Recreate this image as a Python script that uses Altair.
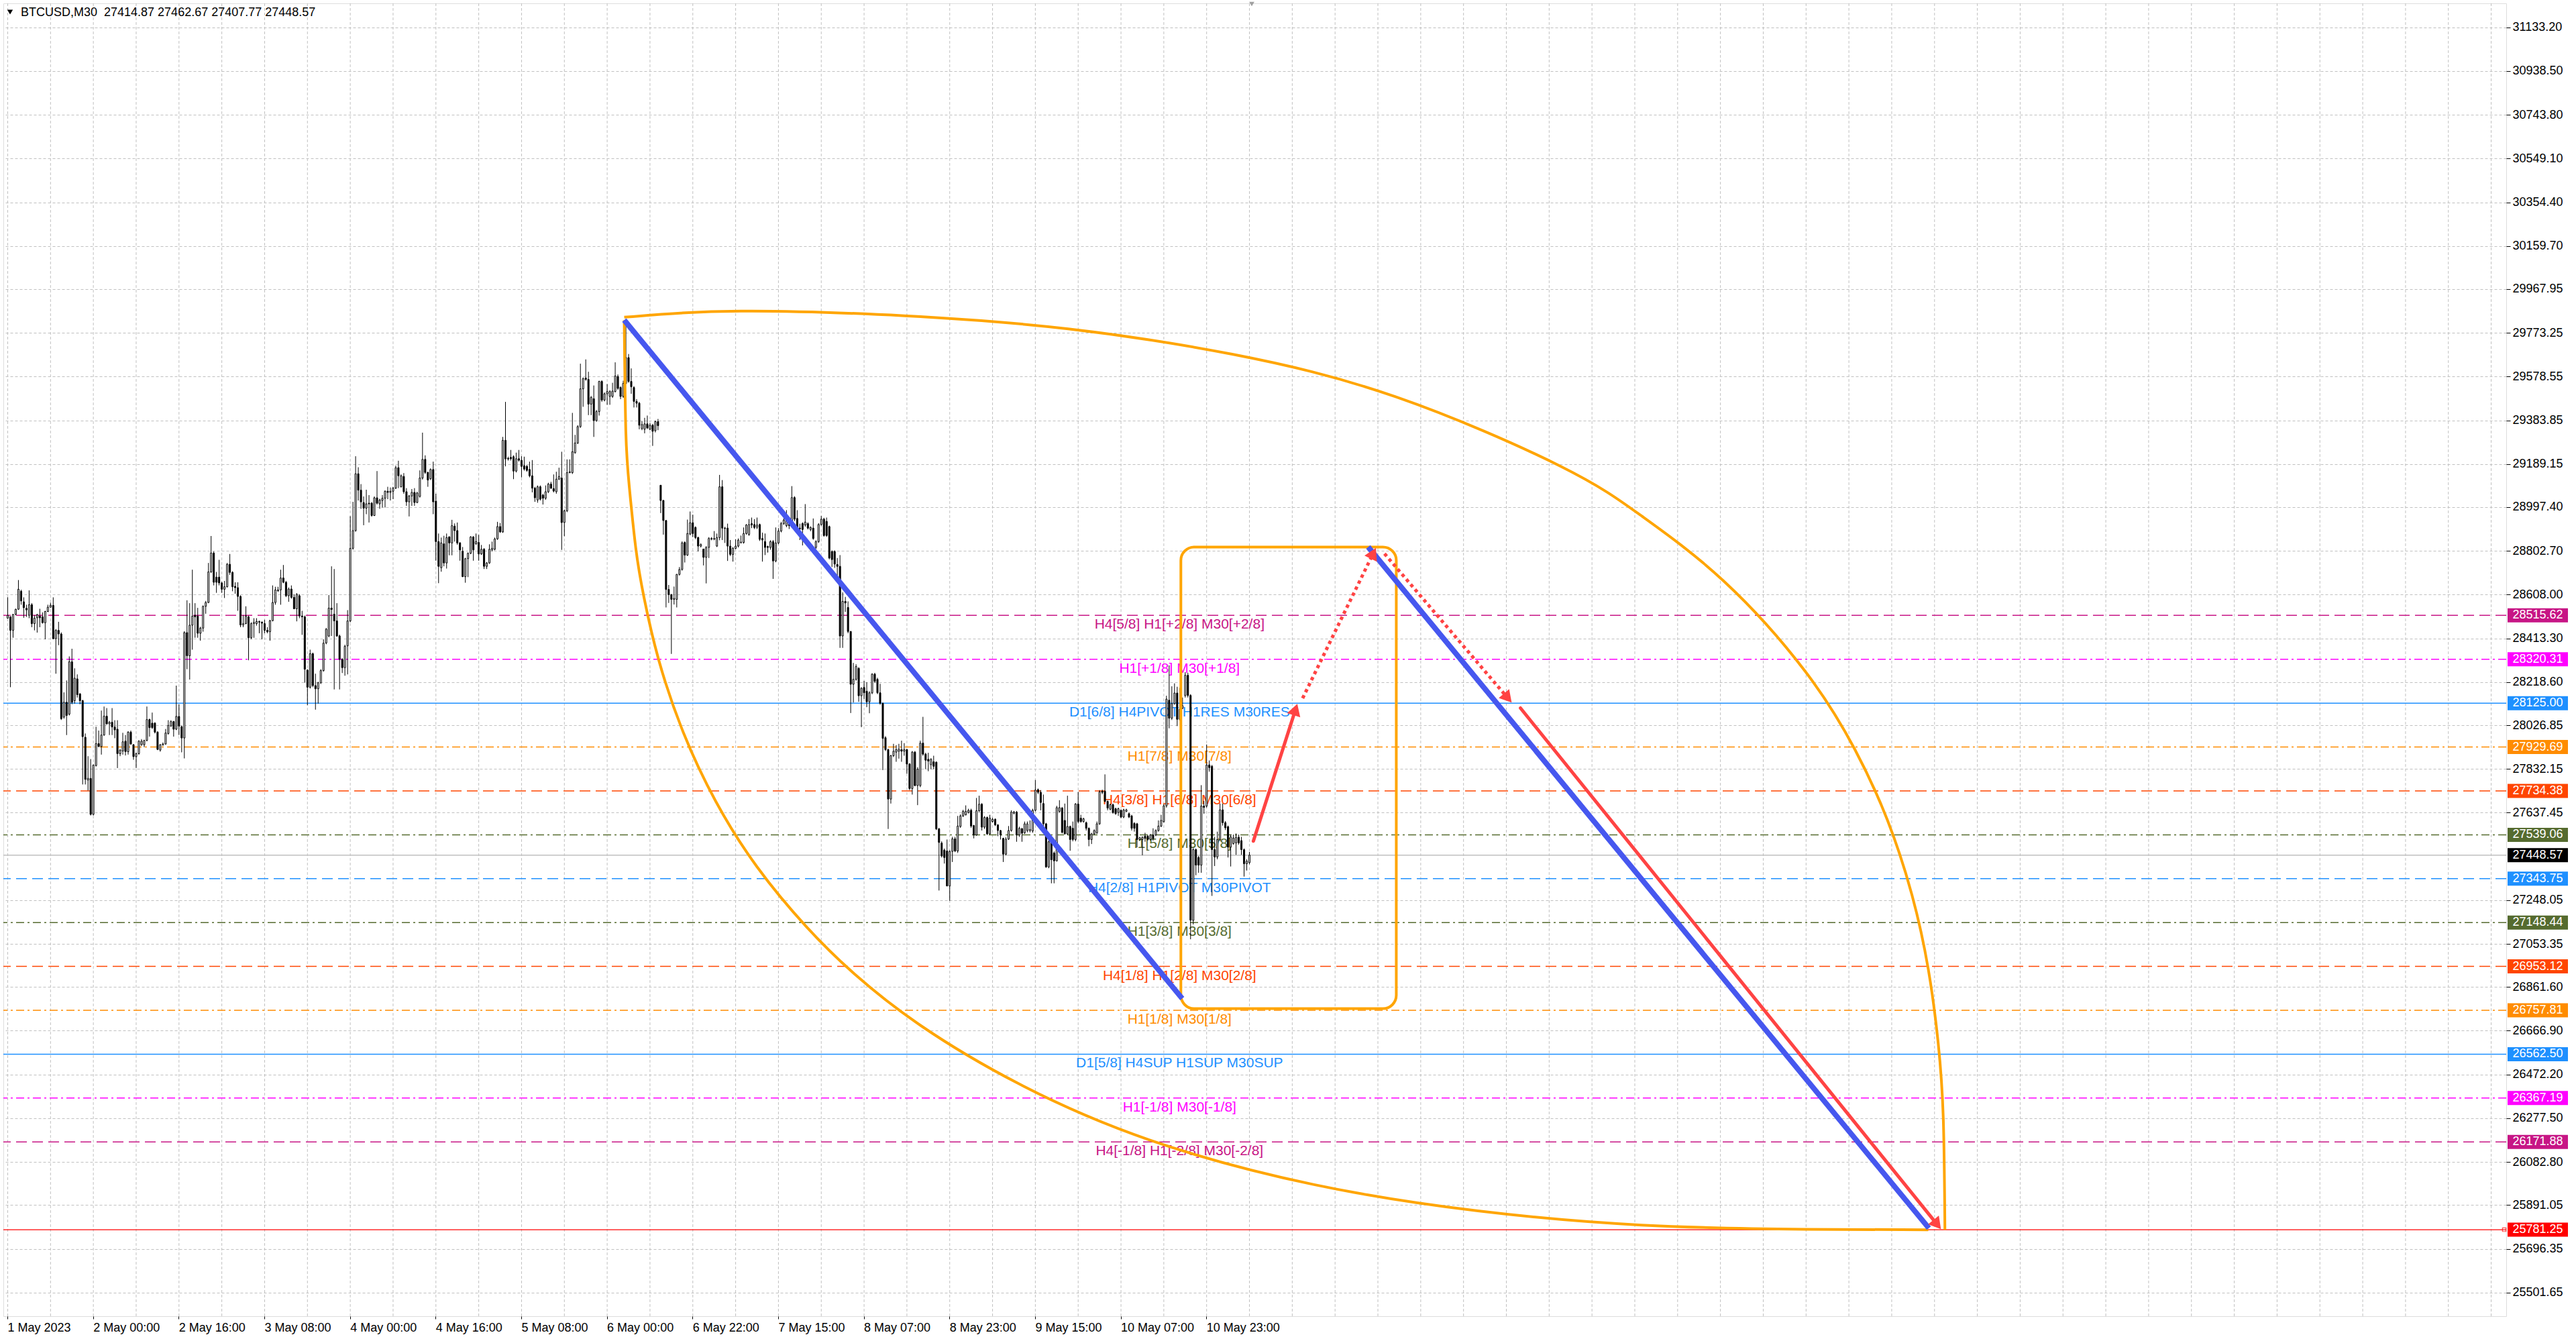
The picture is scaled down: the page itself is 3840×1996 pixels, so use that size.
import math
import altair as alt
import pandas as pd

# ---------------------------------------------------------------------------
# BTCUSD M30 candles, [open, high, low, close] per bar
# ---------------------------------------------------------------------------
candles_may1_3 = [
    [28503, 28596, 28503, 28516], [28509, 28512, 28196, 28449], [28449, 28522, 28416, 28520],
    [28520, 28545, 28516, 28543], [28543, 28673, 28540, 28632], [28623, 28630, 28563, 28580],
    [28576, 28596, 28505, 28550], [28547, 28563, 28509, 28540], [28516, 28627, 28503, 28563],
    [28563, 28570, 28463, 28479], [28479, 28516, 28449, 28503], [28505, 28522, 28439, 28519],
    [28512, 28545, 28463, 28505], [28509, 28529, 28479, 28483], [28483, 28536, 28409, 28533],
    [28533, 28563, 28530, 28552], [28552, 28572, 28550, 28561], [28560, 28596, 28409, 28412],
    [28412, 28455, 28256, 28449], [28449, 28487, 28383, 28433], [28433, 28440, 28050, 28056],
    [28063, 28173, 28056, 28129], [28129, 28226, 27983, 28070], [28076, 28333, 28070, 28309],
    [28309, 28367, 28120, 28129], [28136, 28280, 28123, 28236], [28233, 28253, 28150, 28163],
    [28166, 28170, 28120, 28136], [28136, 28140, 27763, 27976], [27973, 27990, 27763, 27786],
    [27783, 27889, 27736, 27790], [27790, 27876, 27625, 27630], [27630, 27852, 27625, 27849],
    [27847, 28020, 27843, 27945], [27945, 28003, 27929, 27932], [27932, 28092, 27896, 27983],
    [27983, 28110, 27980, 28067], [28067, 28103, 28029, 28033], [28033, 28046, 27983, 28040],
    [28040, 28103, 27983, 28019], [28019, 28049, 27969, 28006], [28009, 28049, 27836, 27900],
    [27900, 27920, 27889, 27916], [27912, 27993, 27896, 27953], [27956, 27983, 27892, 27909],
    [27909, 28000, 27896, 27996], [27996, 28003, 27940, 27943], [27940, 27943, 27873, 27887],
    [27887, 27905, 27836, 27900], [27900, 27960, 27896, 27956], [27940, 27965, 27935, 27956],
    [27940, 27962, 27929, 27959], [27959, 28110, 27955, 28052], [28052, 28056, 27976, 28016],
    [28036, 28083, 28010, 28016], [28036, 28040, 27990, 27996], [27996, 28000, 27916, 27919],
    [27916, 27943, 27909, 27940], [27940, 27950, 27935, 27943], [27943, 28010, 27940, 27992],
    [27990, 28049, 27985, 28026], [28023, 28049, 28020, 28043], [28043, 28046, 27976, 28009],
    [28009, 28203, 28005, 28066], [28066, 28119, 27983, 28023], [28020, 28025, 27906, 27970],
    [27970, 28445, 27879, 28439], [28439, 28583, 28276, 28336], [28336, 28570, 28230, 28472],
    [28472, 28719, 28363, 28512], [28516, 28570, 28416, 28509], [28512, 28549, 28416, 28436],
    [28436, 28465, 28403, 28459], [28459, 28560, 28443, 28556], [28556, 28580, 28523, 28573],
    [28573, 28749, 28570, 28709], [28709, 28869, 28705, 28793], [28793, 28800, 28649, 28663],
    [28686, 28709, 28616, 28663], [28686, 28763, 28649, 28660], [28660, 28665, 28616, 28632],
    [28632, 28669, 28593, 28643], [28643, 28749, 28640, 28743], [28743, 28789, 28696, 28707],
    [28707, 28712, 28623, 28643], [28645, 28663, 28612, 28639], [28639, 28663, 28536, 28600],
    [28600, 28605, 28463, 28473], [28473, 28516, 28463, 28479], [28479, 28556, 28476, 28513],
    [28509, 28515, 28316, 28416], [28416, 28485, 28410, 28479], [28479, 28503, 28416, 28485],
    [28479, 28503, 28470, 28489], [28485, 28492, 28436, 28489], [28485, 28489, 28409, 28481],
    [28479, 28496, 28436, 28449], [28449, 28463, 28436, 28443], [28443, 28496, 28403, 28492],
    [28492, 28649, 28489, 28573], [28573, 28643, 28563, 28629], [28625, 28643, 28620, 28629],
    [28629, 28719, 28563, 28682], [28682, 28740, 28659, 28663], [28663, 28669, 28597, 28603],
    [28603, 28640, 28576, 28633], [28633, 28649, 28590, 28596], [28596, 28609, 28543, 28545],
    [28545, 28615, 28489, 28609], [28603, 28610, 28503, 28513], [28513, 28536, 28429, 28509],
    [28509, 28515, 28216, 28276], [28272, 28276, 28116, 28196], [28196, 28363, 28190, 28345],
    [28345, 28350, 28196, 28203], [28203, 28256, 28096, 28189], [28189, 28220, 28123, 28216],
    [28216, 28276, 28210, 28270], [28270, 28409, 28265, 28392],
]

candles_may3_6 = [
    [28393, 28460, 28387, 28454], [28424, 28606, 28418, 28548], [28548, 28734, 28424, 28542],
    [28521, 28722, 28186, 28491], [28491, 28570, 28420, 28424], [28424, 28430, 28186, 28320],
    [28320, 28325, 28259, 28283], [28283, 28385, 28247, 28378], [28380, 28539, 28253, 28491],
    [28491, 28957, 28485, 28814], [28814, 29021, 28808, 28893], [28893, 29224, 28888, 29146],
    [29146, 29175, 29027, 29073], [29073, 29100, 28990, 29021], [29018, 29045, 28917, 28993],
    [28993, 29075, 28966, 29012], [29015, 29051, 28929, 29012], [29015, 29020, 28955, 28960],
    [28960, 29045, 28958, 29039], [29039, 29158, 29009, 29015], [29012, 29035, 28990, 29029],
    [29027, 29051, 28996, 29037], [29037, 29072, 28996, 29068], [29068, 29088, 29033, 29063],
    [29063, 29085, 29027, 29068], [29068, 29088, 29033, 29082], [29082, 29182, 29078, 29173],
    [29173, 29204, 29082, 29137], [29088, 29143, 29085, 29137], [29134, 29149, 29057, 29066],
    [29066, 29082, 29003, 29021], [29021, 29052, 28956, 29047], [29047, 29078, 29003, 29063],
    [29063, 29082, 29003, 29018], [29018, 29066, 29015, 29060], [29045, 29161, 29040, 29127],
    [29127, 29329, 29120, 29210], [29210, 29228, 29145, 29152], [29152, 29155, 29088, 29118],
    [29124, 29170, 29118, 29165], [29165, 29200, 28966, 29021], [29024, 29057, 28759, 28844],
    [28844, 28880, 28659, 28734], [28728, 28862, 28710, 28838], [28834, 28870, 28734, 28749],
    [28749, 28880, 28724, 28862], [28865, 28868, 28783, 28838], [28838, 28941, 28783, 28915],
    [28913, 28925, 28844, 28893], [28893, 28929, 28830, 28838], [28838, 28842, 28759, 28807],
    [28801, 28820, 28686, 28688], [28688, 28772, 28661, 28768], [28768, 28796, 28686, 28792],
    [28792, 28868, 28788, 28865], [28865, 28868, 28759, 28807], [28834, 28880, 28830, 28844],
    [28840, 28874, 28759, 28789], [28789, 28829, 28785, 28810], [28810, 28815, 28722, 28734],
    [28734, 28753, 28722, 28749], [28749, 28832, 28745, 28810], [28807, 28844, 28800, 28814],
    [28810, 28862, 28805, 28856], [28856, 28932, 28852, 28911], [28911, 28927, 28883, 28887],
    [28887, 29310, 28883, 29295], [29295, 29466, 29179, 29212], [29215, 29222, 29205, 29212],
    [29219, 29252, 29205, 29213], [29222, 29228, 29122, 29158], [29158, 29240, 29152, 29213],
    [29213, 29252, 29200, 29206], [29206, 29224, 29130, 29179], [29182, 29222, 29160, 29167],
    [29179, 29185, 29155, 29161], [29165, 29200, 29130, 29137], [29137, 29207, 29063, 29082],
    [29082, 29088, 29021, 29039], [29029, 29094, 29017, 29088], [29088, 29094, 29027, 29033],
    [29051, 29057, 29009, 29037], [29037, 29094, 29030, 29066], [29066, 29106, 29060, 29100],
    [29100, 29110, 29078, 29082], [29080, 29143, 29063, 29069], [29066, 29155, 29057, 29122],
    [29122, 29173, 29118, 29134], [29127, 29244, 28807, 28929], [28929, 28987, 28868, 28981],
    [28981, 29210, 28975, 29151], [29151, 29210, 29148, 29155], [29151, 29417, 29145, 29244],
    [29240, 29319, 29235, 29283], [29283, 29362, 29278, 29356], [29356, 29636, 29350, 29524],
    [29524, 29575, 29444, 29569], [29572, 29655, 29560, 29566], [29566, 29600, 29407, 29456],
    [29456, 29492, 29407, 29486], [29480, 29539, 29310, 29383], [29383, 29430, 29377, 29423],
    [29423, 29560, 29405, 29557], [29557, 29562, 29466, 29474], [29474, 29508, 29468, 29502],
    [29502, 29545, 29453, 29512], [29490, 29518, 29453, 29512], [29490, 29551, 29484, 29514],
    [29512, 29642, 29508, 29581], [29579, 29588, 29520, 29526], [29530, 29535, 29478, 29490],
    [29490, 29560, 29484, 29548], [29548, 29819, 29545, 29663], [29663, 29679, 29551, 29557],
    [29557, 29615, 29502, 29533], [29530, 29536, 29441, 29468], [29468, 29478, 29441, 29460],
    [29460, 29466, 29344, 29362], [29347, 29380, 29340, 29365], [29344, 29395, 29326, 29368],
    [29368, 29405, 29345, 29350], [29344, 29371, 29340, 29362], [29362, 29368, 29270, 29335],
    [29338, 29383, 29330, 29378], [29378, 29390, 29340, 29360],
]

candles_may6_8 = [
    [29095, 29095, 28971, 29027], [29027, 29030, 28875, 28938], [28938, 28940, 28551, 28631],
    [28631, 28651, 28571, 28608], [28608, 28611, 28344, 28587], [28587, 28644, 28564, 28591],
    [28587, 28700, 28551, 28698], [28698, 28731, 28693, 28720], [28720, 28845, 28715, 28838],
    [28840, 28845, 28751, 28784], [28784, 28942, 28780, 28880], [28878, 28978, 28872, 28928],
    [28928, 28964, 28864, 28880], [28907, 28912, 28855, 28862], [28862, 28866, 28800, 28824],
    [28824, 28836, 28818, 28831], [28811, 28811, 28738, 28774], [28774, 28824, 28658, 28818],
    [28818, 28864, 28771, 28858], [28855, 28864, 28850, 28858], [28855, 28891, 28850, 28858],
    [28824, 28880, 28820, 28862], [28862, 29141, 28850, 29088], [29088, 29118, 28851, 28904],
    [28904, 28910, 28838, 28902], [28904, 28924, 28758, 28824], [28824, 28851, 28780, 28787],
    [28787, 28820, 28755, 28814], [28814, 28854, 28810, 28824], [28824, 28858, 28818, 28851],
    [28840, 28871, 28835, 28842], [28840, 28907, 28835, 28880], [28880, 28922, 28875, 28918],
    [28875, 28944, 28870, 28920], [28924, 28951, 28904, 28918], [28920, 28944, 28900, 28907],
    [28908, 28951, 28900, 28918], [28920, 28924, 28847, 28854], [28858, 28884, 28755, 28851],
    [28844, 28880, 28784, 28818], [28822, 28826, 28795, 28818], [28818, 28850, 28808, 28844],
    [28844, 28851, 28678, 28758], [28758, 28907, 28752, 28838], [28838, 28904, 28832, 28891],
    [28891, 28932, 28885, 28924], [28924, 28948, 28918, 28940], [28915, 28984, 28908, 28944],
    [28924, 28930, 28900, 28915], [28918, 29091, 28912, 29040], [29040, 29046, 28935, 28944],
    [28947, 28984, 28880, 28904], [28904, 28924, 28851, 28901], [28924, 28930, 28827, 28898],
    [28918, 29011, 28910, 28931], [28924, 28930, 28898, 28904], [28898, 28912, 28890, 28907],
    [28904, 28947, 28852, 28858], [28818, 28850, 28812, 28844], [28844, 28926, 28838, 28920],
    [28920, 28958, 28915, 28944], [28944, 28950, 28866, 28871], [28934, 28951, 28865, 28871],
    [28911, 28915, 28765, 28771], [28800, 28805, 28731, 28764], [28800, 28805, 28727, 28744],
    [28742, 28771, 28691, 28734], [28734, 28784, 28371, 28424], [28424, 28618, 28371, 28578],
    [28578, 28598, 28531, 28571], [28551, 28578, 28436, 28444], [28444, 28446, 28081, 28209],
    [28209, 28304, 28128, 28231], [28231, 28298, 28225, 28288], [28280, 28285, 28131, 28158],
    [28158, 28196, 28018, 28191], [28195, 28224, 28144, 28171], [28178, 28218, 28107, 28131],
    [28131, 28178, 28080, 28171], [28171, 28258, 28165, 28254], [28254, 28260, 28215, 28222],
    [28231, 28238, 28165, 28171], [28171, 28211, 28118, 28124], [28124, 28128, 27827, 27968],
    [27971, 27978, 27912, 27918], [27918, 27922, 27565, 27698], [27698, 27895, 27678, 27891],
    [27891, 27944, 27885, 27911], [27907, 27938, 27864, 27918], [27911, 27944, 27878, 27920],
    [27918, 27958, 27864, 27911], [27911, 27947, 27891, 27918], [27918, 27922, 27811, 27854],
    [27854, 27858, 27738, 27745], [27745, 27912, 27718, 27907], [27907, 27912, 27755, 27758],
    [27758, 27840, 27671, 27831], [27758, 27958, 27751, 27947], [27947, 28064, 27891, 27898],
    [27898, 27904, 27831, 27871], [27875, 27904, 27822, 27867], [27851, 27880, 27831, 27875],
    [27864, 27891, 27831, 27844], [27862, 27866, 27560, 27565], [27565, 27570, 27291, 27505],
    [27502, 27510, 27438, 27445], [27471, 27478, 27411, 27438], [27467, 27518, 27311, 27311],
    [27311, 27470, 27245, 27465], [27465, 27530, 27418, 27521], [27521, 27530, 27462, 27467],
]

candles_may8_10 = [
    [27467, 27623, 27458, 27578], [27576, 27630, 27570, 27623], [27623, 27650, 27618, 27643],
    [27628, 27670, 27625, 27643], [27638, 27655, 27634, 27648], [27648, 27655, 27570, 27578],
    [27580, 27583, 27523, 27538], [27538, 27703, 27535, 27646], [27646, 27713, 27640, 27675],
    [27675, 27680, 27558, 27573], [27573, 27622, 27565, 27616], [27616, 27620, 27538, 27543],
    [27543, 27628, 27540, 27613], [27598, 27615, 27594, 27608], [27608, 27612, 27578, 27583],
    [27583, 27586, 27533, 27558], [27558, 27560, 27518, 27538], [27523, 27526, 27418, 27453],
    [27453, 27528, 27448, 27520], [27520, 27578, 27516, 27558], [27558, 27648, 27553, 27640],
    [27635, 27645, 27630, 27640], [27640, 27645, 27508, 27538], [27538, 27575, 27530, 27568],
    [27566, 27570, 27508, 27546], [27548, 27598, 27543, 27588], [27558, 27598, 27550, 27588],
    [27558, 27603, 27550, 27562], [27556, 27655, 27548, 27648], [27648, 27783, 27643, 27738],
    [27740, 27745, 27720, 27728], [27728, 27738, 27648, 27683], [27678, 27718, 27578, 27588],
    [27588, 27592, 27392, 27396], [27396, 27515, 27390, 27508], [27508, 27512, 27323, 27428],
    [27458, 27465, 27323, 27423], [27423, 27668, 27420, 27660], [27643, 27693, 27638, 27660],
    [27658, 27663, 27545, 27550], [27603, 27678, 27540, 27543], [27543, 27713, 27538, 27576],
    [27576, 27580, 27468, 27518], [27568, 27598, 27510, 27518], [27518, 27680, 27510, 27676],
    [27676, 27730, 27590, 27598], [27613, 27628, 27593, 27598], [27598, 27615, 27593, 27610],
    [27593, 27598, 27558, 27568], [27568, 27572, 27488, 27518], [27518, 27548, 27498, 27543],
    [27543, 27563, 27538, 27558], [27548, 27598, 27543, 27588], [27588, 27738, 27583, 27730],
    [27733, 27740, 27720, 27728], [27733, 27808, 27683, 27688], [27688, 27692, 27648, 27658],
    [27653, 27678, 27648, 27673], [27673, 27678, 27633, 27638], [27655, 27660, 27628, 27633],
    [27638, 27660, 27623, 27655], [27648, 27652, 27613, 27618], [27618, 27655, 27613, 27650],
    [27643, 27655, 27640, 27650], [27633, 27638, 27613, 27618], [27623, 27628, 27558, 27568],
    [27590, 27595, 27553, 27568], [27588, 27592, 27483, 27518], [27518, 27530, 27513, 27526],
    [27518, 27532, 27448, 27528], [27533, 27548, 27508, 27523], [27533, 27538, 27513, 27518],
    [27518, 27543, 27513, 27538], [27538, 27568, 27513, 27523], [27538, 27563, 27533, 27558],
    [27558, 27603, 27553, 27578], [27578, 27628, 27573, 27603], [27598, 27675, 27593, 27668],
    [27668, 28158, 27660, 28143], [28138, 28293, 28013, 28058], [28058, 28200, 28050, 28123],
    [28123, 28213, 28118, 28170], [28170, 28198, 28023, 28053], [28053, 28193, 28048, 28098],
    [28103, 28150, 28098, 28113], [28159, 28263, 28150, 28249], [28249, 28260, 28150, 28159],
    [28159, 28165, 27074, 27159], [27158, 27480, 27140, 27473], [27473, 27478, 27359, 27404],
    [27438, 27445, 27370, 27404], [27404, 27760, 27370, 27667], [27667, 27690, 27633, 27661],
    [27667, 27941, 27660, 27850], [27850, 27870, 27820, 27838], [27844, 27850, 27267, 27473],
    [27473, 27530, 27400, 27440], [27440, 27553, 27430, 27518], [27518, 27678, 27510, 27650],
    [27650, 27678, 27580, 27593], [27593, 27600, 27560, 27570], [27575, 27580, 27438, 27484],
    [27484, 27540, 27398, 27530], [27500, 27540, 27495, 27525], [27503, 27545, 27450, 27528],
    [27528, 27540, 27495, 27503], [27513, 27530, 27450, 27473], [27473, 27478, 27353, 27410],
    [27410, 27430, 27380, 27422], [27414.87, 27462.67, 27407.77, 27448.57],
]

# Time axis: one label every 32 bars
time_labels = [
    "1 May 2023", "2 May 00:00", "2 May 16:00", "3 May 08:00", "4 May 00:00",
    "4 May 16:00", "5 May 08:00", "6 May 00:00", "6 May 22:00", "7 May 15:00",
    "8 May 07:00", "8 May 23:00", "9 May 15:00", "10 May 07:00", "10 May 23:00",
]
label_every = 32
grid_every = 16

price_ticks = [
    31133.20, 30938.50, 30743.80, 30549.10, 30354.40, 30159.70, 29967.95, 29773.25,
    29578.55, 29383.85, 29189.15, 28997.40, 28802.70, 28608.00, 28413.30, 28218.60,
    28026.85, 27832.15, 27637.45, 27248.05, 27053.35, 26861.60, 26666.90, 26472.20,
    26277.50, 26082.80, 25891.05, 25696.35, 25501.65,
]

# Murrey-math levels
level_prices = [28515.62, 28320.31, 28125.00, 27929.69, 27734.38, 27539.06, 27343.75,
                27148.44, 26953.12, 26757.81, 26562.50, 26367.19, 26171.88]
level_texts = [
    "H4[5/8] H1[+2/8] M30[+2/8]", "H1[+1/8] M30[+1/8]", "D1[6/8] H4PIVOT H1RES M30RES",
    "H1[7/8] M30[7/8]", "H4[3/8] H1[6/8] M30[6/8]", "H1[5/8] M30[5/8]",
    "H4[2/8] H1PIVOT M30PIVOT", "H1[3/8] M30[3/8]", "H4[1/8] H1[2/8] M30[2/8]",
    "H1[1/8] M30[1/8]", "D1[5/8] H4SUP H1SUP M30SUP", "H1[-1/8] M30[-1/8]",
    "H4[-1/8] H1[-2/8] M30[-2/8]",
]
level_colors = ["#C71585", "#FF00FF", "#1E90FF", "#FF8C00", "#FF4500", "#556B2F", "#1E90FF",
                "#556B2F", "#FF4500", "#FF8C00", "#1E90FF", "#FF00FF", "#C71585"]
level_styles = ["dash", "dashdot", "solid", "dashdot", "dash", "dashdot", "dash",
                "dashdot", "dash", "dashdot", "solid", "dashdot", "dash"]
level_label_bar = 438

target_price = 25781.25

# Drawn objects, as (bar, price) points
blue_legs = [
    [(230.5, 29830), (439.0, 26810)],
    [(508.5, 28820), (718.0, 25788)],
]
red_solid_legs = [
    [(465.6, 27511), (482.1, 28125)],
    [(565.4, 28103), (722.7, 25781)],
]
red_dotted_legs = [
    [(484.0, 28147), (511.5, 28819)],
    [(514.6, 28790), (562.3, 28125)],
]
box_bars = (438.5, 519.0)
box_prices = (28820.0, 26765.0)
arc_upper = [(230.5, 29843), (274.0, 29870), (335.2, 29849), (396.4, 29791), (457.7, 29678),
             (518.9, 29488), (580.1, 29181), (610.7, 28958), (641.3, 28669), (671.9, 28265),
             (690.3, 27920), (702.5, 27605), (711.7, 27271), (717.8, 26940), (721.5, 26611),
             (723.4, 26275), (724.0, 25781)]
arc_lower = [(230.5, 29829), (231.1, 29334), (232.4, 29087), (234.8, 28817), (237.9, 28595),
             (243.4, 28317), (252.6, 27994), (264.8, 27686), (280.1, 27397), (298.5, 27131),
             (316.8, 26917), (341.3, 26690), (378.1, 26430), (427.0, 26180), (488.3, 25982),
             (549.5, 25865), (610.7, 25802), (671.9, 25783), (717.8, 25781)]

# ---------------------------------------------------------------------------
# Layout
# ---------------------------------------------------------------------------
PLOT_W, PLOT_H = 3731, 1957
X_DOMAIN = [-0.25, 932.5]
Y_DOMAIN = [25396.3, 31239.8]
PX_PER_BAR = PLOT_W / (X_DOMAIN[1] - X_DOMAIN[0])
PX_PER_PRICE = PLOT_H / (Y_DOMAIN[1] - Y_DOMAIN[0])
FONT = "Liberation Sans"
GRID = "#C0C0C0"
ORANGE = "#FFA500"
BLUE = "#4657EF"
RED = "#FF4343"

x_scale = alt.Scale(domain=X_DOMAIN, nice=False, zero=False)
y_scale = alt.Scale(domain=Y_DOMAIN, nice=False, zero=False)

label_expr = ""
for k, t in enumerate(time_labels):
    label_expr += f"datum.value == {k * label_every} ? '{t}' : "
label_expr += "''"

x_axis = alt.Axis(
    values=[k * label_every for k in range(len(time_labels))], labelExpr=label_expr,
    grid=False, ticks=True, tickSize=4, tickColor="black", labelAlign="left",
    labelPadding=4, labelFont=FONT, labelFontSize=18, labelColor="black",
    labelOverlap=False, labelBound=False, labelFlush=False, domain=False, title=None,
)
y_axis = alt.Axis(
    orient="right", values=price_ticks, format=".2f", grid=True, gridColor=GRID,
    gridDash=[4, 3], gridWidth=1, tickSize=6, tickColor="black", labelPadding=3,
    labelFont=FONT, labelFontSize=18, labelColor="black", labelOverlap=False,
    labelBound=False, labelFlush=False, domain=False, title=None,
)


def X(field="bar"):
    return alt.X(f"{field}:Q", scale=x_scale, axis=x_axis)


def Y(field="price"):
    return alt.Y(f"{field}:Q", scale=y_scale, axis=y_axis)


candles = candles_may1_3 + candles_may3_6 + candles_may6_8 + candles_may8_10
cdf = pd.DataFrame(candles, columns=["open", "high", "low", "close"])
cdf["bar"] = range(len(cdf))
cdf["body"] = ["white" if c >= o else "black" for o, c in zip(cdf["open"], cdf["close"])]

layers = []

# vertical dotted grid
vgrid = pd.DataFrame({"bar": list(range(0, int(X_DOMAIN[1]) + 1, grid_every))})
layers.append(
    alt.Chart(vgrid).mark_rule(color=GRID, strokeDash=[4, 3], strokeWidth=1, xOffset=0.5)
    .encode(x=X("bar"))
)

# horizontal levels
ldf = pd.DataFrame({"price": level_prices, "text": level_texts, "color": level_colors,
                    "style": level_styles})
ldf["bar"] = level_label_bar
dash_for = {"solid": [1, 0], "dash": [16, 8], "dashdot": [12, 5, 3, 5]}
for style, dash in dash_for.items():
    sub = ldf[ldf["style"] == style]
    layers.append(
        alt.Chart(sub).mark_rule(strokeWidth=1.5, strokeDash=dash)
        .encode(y=Y("price"), color=alt.Color("color:N", scale=None))
    )

# bid line and target line
layers.append(
    alt.Chart(pd.DataFrame({"price": [candles[-1][3]]})).mark_rule(color="#C0C0C0", strokeWidth=1.5)
    .encode(y=Y())
)
layers.append(
    alt.Chart(pd.DataFrame({"price": [target_price]})).mark_rule(color="#FF0000", strokeWidth=1.2)
    .encode(y=Y())
)

# level captions
layers.append(
    alt.Chart(ldf).mark_text(align="center", baseline="top", dy=3, font=FONT, fontSize=21)
    .encode(x=X(), y=Y(), text="text:N", color=alt.Color("color:N", scale=None))
)

# candles: wicks then bodies
layers.append(
    alt.Chart(cdf).mark_rule(color="black", strokeWidth=1, xOffset=0.5)
    .encode(x=X(), y=Y("low"), y2="high:Q")
)
layers.append(
    alt.Chart(cdf).mark_bar(width=2, xOffset=0.5, stroke="black", strokeWidth=1)
    .encode(x=X(), y=Y("open"), y2="close:Q", fill=alt.Fill("body:N", scale=None))
)

# orange box and arcs
layers.append(
    alt.Chart(pd.DataFrame({"bar": [box_bars[0]], "bar2": [box_bars[1]],
                            "price": [box_prices[0]], "price2": [box_prices[1]]}))
    .mark_rect(filled=False, color=ORANGE, strokeWidth=4, cornerRadius=20)
    .encode(x=X(), x2="bar2:Q", y=Y(), y2="price2:Q")
)
for pts in (arc_upper, arc_lower):
    adf = pd.DataFrame(pts, columns=["bar", "price"])
    adf["i"] = range(len(adf))
    layers.append(
        alt.Chart(adf).mark_line(color=ORANGE, strokeWidth=4, interpolate="natural")
        .encode(x=X(), y=Y(), order="i:Q")
    )

# blue legs
for leg in blue_legs:
    bdf = pd.DataFrame(leg, columns=["bar", "price"])
    layers.append(
        alt.Chart(bdf).mark_line(color=BLUE, strokeWidth=8, strokeCap="butt")
        .encode(x=X(), y=Y())
    )


def arrow(p0, p1, back_px=10.0):
    dx = (p1[0] - p0[0]) * PX_PER_BAR
    dy = (p1[1] - p0[1]) * PX_PER_PRICE
    length = math.hypot(dx, dy)
    ux, uy = dx / length, dy / length
    angle = math.degrees(math.atan2(dx, dy)) % 360
    cx = p1[0] - ux * back_px / PX_PER_BAR
    cy = p1[1] - uy * back_px / PX_PER_PRICE
    return (cx, cy), angle


heads = []
for legs, dashed in ((red_solid_legs, False), (red_dotted_legs, True)):
    for p0, p1 in legs:
        end, ang = arrow(p0, p1)
        rdf = pd.DataFrame([p0, end], columns=["bar", "price"])
        if dashed:
            mk = alt.Chart(rdf).mark_line(color=RED, strokeWidth=5, strokeDash=[5, 5], strokeCap="butt")
        else:
            mk = alt.Chart(rdf).mark_line(color=RED, strokeWidth=5, strokeCap="round")
        layers.append(mk.encode(x=X(), y=Y()))
        heads.append({"bar": end[0], "price": end[1], "angle": ang})

hdf = pd.DataFrame(heads)
layers.append(
    alt.Chart(hdf).mark_point(shape="triangle-up", filled=True, color=RED, size=420, opacity=1)
    .encode(x=X(), y=Y(), angle=alt.Angle("angle:Q", scale=None))
)

# price tags on the axis
tag_prices = level_prices + [candles[-1][3], target_price]
tag_colors = level_colors + ["#000000", "#FF0000"]
tdf = pd.DataFrame({"price": tag_prices, "color": tag_colors})
tdf["label"] = [f"{p:.2f}" for p in tdf["price"]]
layers.append(
    alt.Chart(tdf).mark_rect(yOffset=-10.5, y2Offset=10.5)
    .encode(x=alt.value(PLOT_W + 2), x2=alt.value(PLOT_W + 92), y=Y(), y2="price:Q",
            fill=alt.Fill("color:N", scale=None))
)
layers.append(
    alt.Chart(tdf).mark_text(align="center", baseline="middle", color="white", font=FONT, fontSize=18)
    .encode(x=alt.value(PLOT_W + 47), y=Y(), text="label:N")
)
layers.append(
    alt.Chart(pd.DataFrame({"price": [target_price]}))
    .mark_square(filled=False, color="#FF0000", size=28, strokeWidth=1.2)
    .encode(x=alt.value(PLOT_W - 3), y=Y())
)

# header line
o, h, l, c = candles[-1]
header = f"BTCUSD,M30\u00a0\u00a0{o:.2f} {h:.2f} {l:.2f} {c:.2f}"
layers.append(
    alt.Chart(pd.DataFrame({"t": [header]}))
    .mark_text(align="left", baseline="middle", font=FONT, fontSize=18, color="black")
    .encode(x=alt.value(26), y=alt.value(14), text="t:N")
)
layers.append(
    alt.Chart(pd.DataFrame({"t": [0]}))
    .mark_point(shape="triangle-down", filled=True, color="black", size=70, opacity=1)
    .encode(x=alt.value(10), y=alt.value(13))
)
layers.append(
    alt.Chart(pd.DataFrame({"t": [0]}))
    .mark_point(shape="triangle-down", filled=True, color="#A0A0A0", size=60, opacity=1)
    .encode(x=alt.value(1861), y=alt.value(1))
)

chart = (
    alt.layer(*layers)
    .properties(width=PLOT_W, height=PLOT_H,
                padding={"left": 5, "top": 5, "right": 104, "bottom": 34},
                autosize=alt.AutoSizeParams(type="none"))
    .configure_view(stroke="black", strokeWidth=1.5)
    .configure(background="white")
)

chart.save("out.html", embed_options={"renderer": "svg", "actions": False})
